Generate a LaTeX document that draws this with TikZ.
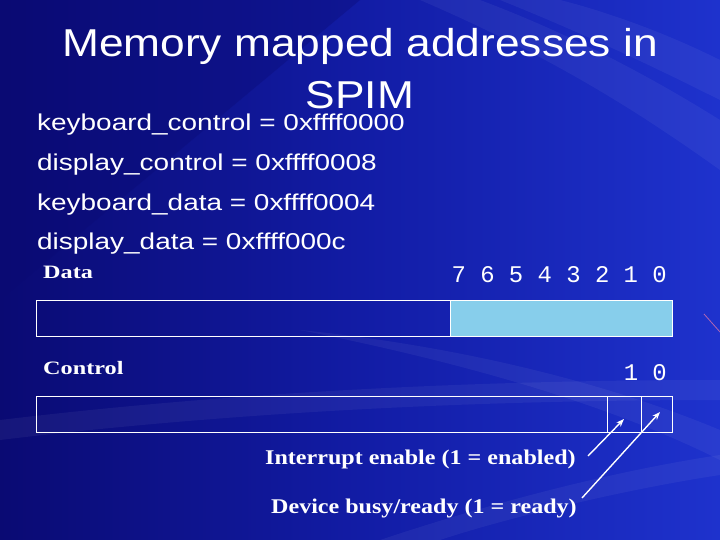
\documentclass[tikz,border=0pt]{standalone}
\usepackage{fontspec}
\usepackage{graphicx}
\usetikzlibrary{arrows.meta}
\setmainfont{Liberation Serif}
\newfontfamily\arialf{Liberation Sans}
\newfontfamily\courf{Liberation Mono}
\definecolor{bgdark}{RGB}{10,10,115}
\definecolor{bgmid}{RGB}{18,28,165}
\definecolor{bgright}{RGB}{30,50,205}
\definecolor{skyfill}{RGB}{135,206,235}
\newcommand{\wide}[2]{\scalebox{#1}[1]{#2}}
\begin{document}
\begin{tikzpicture}[x=1bp,y=-1bp,
  titletext/.style={font=\arialf\fontsize{39}{39}\selectfont,text=white,anchor=base,inner sep=0},
  keytext/.style={font=\arialf\fontsize{23}{23}\selectfont,text=white,anchor=base west,inner sep=0},
  lbltext/.style={font=\bfseries\fontsize{19}{19}\selectfont,text=white,anchor=base west,inner sep=0},
  notetext/.style={font=\bfseries\fontsize{21}{21}\selectfont,text=white,anchor=base west,inner sep=0},
  bittext/.style={font=\courf\fontsize{24}{24}\selectfont,text=white,anchor=base east,inner sep=0},
  regbox/.style={draw=white,line width=0.9pt},
  pointer/.style={draw=white,line width=1.4pt,-{Stealth[length=8pt,width=6pt]}},
  streak/.style={fill=white,fill opacity=0.05,draw=none}]
\useasboundingbox (0,0) rectangle (720,540);
% background
\shade[left color=bgdark,right color=bgright,middle color=bgmid] (0,0) rectangle (720,540);
\fill[bgdark,opacity=0.35] (0,0) -- (360,0) -- (0,300) -- cycle;
\fill[streak] (420,0) .. controls (560,60) and (650,120) .. (720,170) -- (720,120) .. controls (640,70) and (560,30) .. (480,0) -- cycle;
\fill[streak] (500,0) .. controls (600,40) and (680,80) .. (720,100) -- (720,60) .. controls (660,30) and (600,10) .. (560,0) -- cycle;
\fill[streak] (300,330) .. controls (450,360) and (600,400) .. (720,460) -- (720,430) .. controls (600,380) and (450,345) .. (300,330) -- cycle;
\fill[streak] (0,420) .. controls (250,390) and (500,380) .. (720,380) -- (720,400) .. controls (500,400) and (250,410) .. (0,440) -- cycle;
\fill[streak] (380,540) .. controls (500,500) and (620,470) .. (720,455) -- (720,475) .. controls (620,490) and (500,520) .. (440,540) -- cycle;
\draw[violet!60!white,line width=0.8pt] (704,314) -- (720,332);
% title
\node[titletext] (t1) at (360,57) {\wide{1.14}{Memory mapped addresses in}};
\node[titletext] (t2) at (360,108.5) {\wide{1.14}{SPIM}};
% addresses
\node[keytext] (k1) at (37,131) {\wide{1.22}{keyboard\_control = 0xffff0000}};
\node[keytext] (k2) at (37,171) {\wide{1.22}{display\_control = 0xffff0008}};
\node[keytext] (k3) at (37,210.5) {\wide{1.22}{keyboard\_data = 0xffff0004}};
\node[keytext] (k4) at (37,250) {\wide{1.22}{display\_data = 0xffff000c}};
% data register
\node[lbltext] (dlbl) at (43,279) {\wide{1.28}{Data}};
\node[bittext] (dbits) at (667,283) {7 6 5 4 3 2 1 0};
\fill[skyfill] (450,300) rectangle (672,336);
\draw[regbox] (36,300) rectangle (672,336);
\draw[white,line width=0.6pt] (450,300) -- (450,336);
% control register
\node[lbltext] (clbl) at (43,374) {\wide{1.28}{Control}};
\node[bittext] (cbits) at (667,380) {1 0};
\draw[regbox] (36,396) rectangle (672,432);
\draw[regbox] (607,396) -- (607,432);
\draw[regbox] (641,396) -- (641,432);
\coordinate (bit1) at (624,419);
\coordinate (bit0) at (660,412);
% labels
\node[notetext] (ie) at (265,464) {\wide{1.15}{Interrupt enable (1 = enabled)}};
\node[notetext] (db) at (271,513) {\wide{1.15}{Device busy/ready (1 = ready)}};
\coordinate (ietail) at (588,456);
\coordinate (dbtail) at (582,498);
\draw[pointer] (ietail) -- (bit1);
\draw[pointer] (dbtail) -- (bit0);
\end{tikzpicture}
\end{document}
